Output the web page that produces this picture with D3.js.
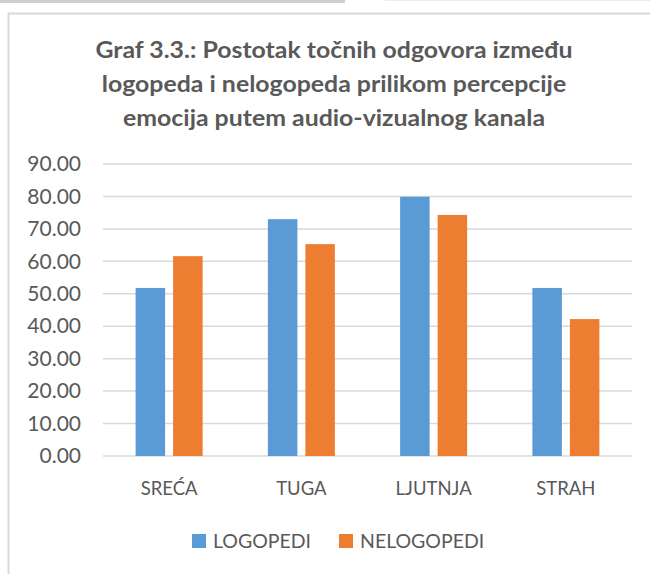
<!DOCTYPE html>
<html>
<head>
<meta charset="utf-8">
<script src="https://cdn.jsdelivr.net/npm/d3@7"></script>
<style>
  body { margin: 0; background: #fff; }
  svg { display: block; }
</style>
</head>
<body>
<svg id="chart" width="650" height="574"></svg>
<script>
// chart data
const categories = ["SREĆA", "TUGA", "LJUTNJA", "STRAH"];
const seriesNames = ["LOGOPEDI", "NELOGOPEDI"];
const logopedi = [51.8, 73.0, 79.9, 51.8];
const nelogopedi = [61.6, 65.3, 74.3, 42.2];
const yTicks = [0, 10, 20, 30, 40, 50, 60, 70, 80, 90];
const titleLines = [
  "Graf 3.3.: Postotak točnih odgovora između",
  "logopeda i nelogopeda prilikom percepcije",
  "emocija putem audio-vizualnog kanala"
];

const colors = { LOGOPEDI: "#5B9BD5", NELOGOPEDI: "#ED7D31" };
const textColor = "#595959";
const gridColor = "#d9d9d9";
const font = "Lato, 'Open Sans', sans-serif";

const svg = d3.select("#chart");

// page leftovers around the chart frame
svg.append("rect").attr("x", 0).attr("y", 0).attr("width", 345).attr("height", 3).attr("fill", "#d0d0d0");
svg.append("rect").attr("x", 385).attr("y", 0).attr("width", 265).attr("height", 1).attr("fill", "#ececec");

// chart frame (left + top edges visible)
svg.append("path")
  .attr("d", "M8.5,574 V13.5 H650")
  .attr("fill", "none")
  .attr("stroke", gridColor)
  .attr("stroke-width", 2);

// title, stretched a bit to the width of the original lines
const titleG = svg.append("g");
titleG.selectAll("text")
  .data(titleLines)
  .join("text")
  .attr("x", 334)
  .attr("y", (d, i) => 58 + i * 34)
  .attr("text-anchor", "middle")
  .attr("font-family", font)
  .attr("font-weight", "bold")
  .attr("font-size", 22)
  .attr("fill", textColor)
  .text((d) => d)
  .each(function () {
    const w = this.getComputedTextLength();
    d3.select(this).attr("textLength", w * 1.13).attr("lengthAdjust", "spacingAndGlyphs");
  });

// scales
const x0 = d3.scaleBand().domain(categories).range([103, 632]).padding(0);
const x1 = d3.scaleBand().domain(seriesNames).range([0, x0.bandwidth()])
  .paddingInner(0.213).paddingOuter(0.87);
const y = d3.scaleLinear().domain([0, 90]).range([456, 164]);

// gridlines
svg.append("g")
  .selectAll("line")
  .data(yTicks)
  .join("line")
  .attr("x1", 103)
  .attr("x2", 632)
  .attr("y1", (d) => y(d))
  .attr("y2", (d) => y(d))
  .attr("stroke", gridColor)
  .attr("stroke-width", 1.5);

// y axis labels
const yAxis = d3.axisLeft(y).tickValues(yTicks).tickFormat(d3.format(".2f")).tickSize(0).tickPadding(22);
const yG = svg.append("g").attr("transform", "translate(103,0)").call(yAxis);
yG.select(".domain").remove();
yG.selectAll("text")
  .attr("font-family", font)
  .attr("font-size", 21)
  .attr("fill", textColor);

// bars
const rows = categories.map((c, i) => ({ cat: c, LOGOPEDI: logopedi[i], NELOGOPEDI: nelogopedi[i] }));
svg.append("g")
  .selectAll("g")
  .data(rows)
  .join("g")
  .attr("transform", (d) => `translate(${x0(d.cat)},0)`)
  .selectAll("rect")
  .data((d) => seriesNames.map((s) => ({ key: s, value: d[s] })))
  .join("rect")
  .attr("x", (d) => x1(d.key))
  .attr("width", x1.bandwidth())
  .attr("y", (d) => y(d.value))
  .attr("height", (d) => y(0) - y(d.value))
  .attr("fill", (d) => colors[d.key]);

// x axis labels
const xAxis = d3.axisBottom(x0).tickSize(0).tickPadding(26);
const xG = svg.append("g").attr("transform", "translate(0,456)").call(xAxis);
xG.select(".domain").remove();
xG.selectAll("text")
  .attr("font-family", font)
  .attr("font-size", 18.5)
  .attr("fill", textColor);

// legend
const legend = svg.append("g").attr("transform", "translate(192,541)");
const legendX = [0, 147];
seriesNames.forEach((s, i) => {
  const g = legend.append("g").attr("transform", `translate(${legendX[i]},0)`);
  g.append("rect").attr("x", 0).attr("y", -7).attr("width", 14).attr("height", 14).attr("fill", colors[s]);
  g.append("text")
    .attr("x", 21)
    .attr("y", 0)
    .attr("dy", "0.35em")
    .attr("font-family", font)
    .attr("font-size", 19.5)
    .attr("fill", textColor)
    .text(s);
});
</script>
</body>
</html>
